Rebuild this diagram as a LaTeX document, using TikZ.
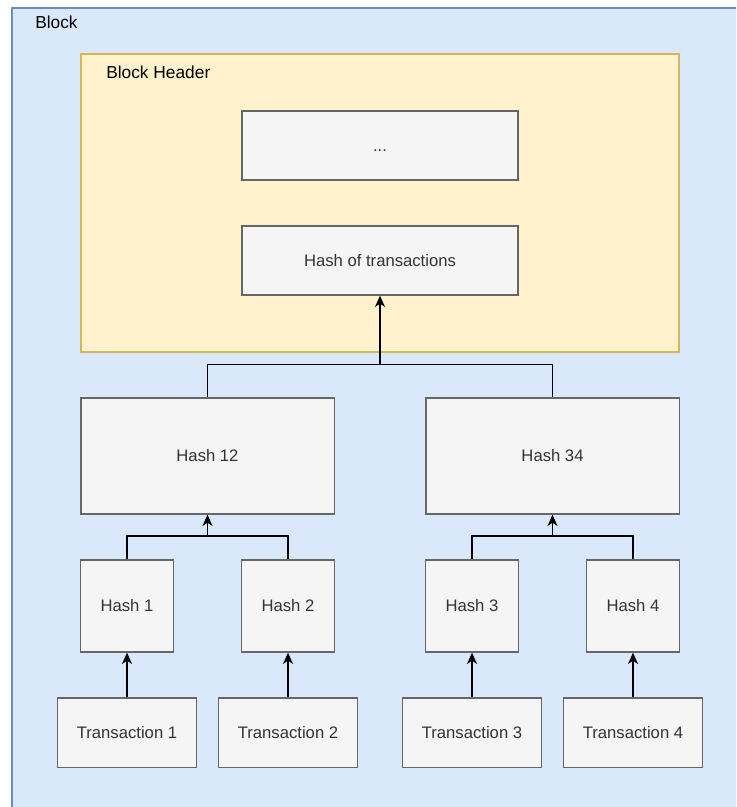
\documentclass[tikz,border=0pt]{standalone}
\usepackage{fontspec}
\setmainfont{Liberation Sans}
\usetikzlibrary{arrows.meta}
\definecolor{blockfill}{HTML}{DAE8FC}
\definecolor{blockline}{HTML}{6C8EBF}
\definecolor{headfill}{HTML}{FFF2CC}
\definecolor{headline}{HTML}{D6B656}
\definecolor{boxfill}{HTML}{F5F5F5}
\definecolor{boxline}{HTML}{666666}
\definecolor{boxtext}{HTML}{333333}
\tikzset{
  box/.style={draw=boxline, fill=boxfill, text=boxtext, line width=1pt,
    inner sep=0pt, text height=8.95pt, text depth=0pt,
    font=\fontsize{12.5pt}{15pt}\selectfont},
  widebox/.style={box, minimum width=207pt, minimum height=51.75pt},
  midbox/.style={box, minimum width=190pt, minimum height=87pt},
  hashbox/.style={box, minimum width=69.5pt, minimum height=69pt},
  txbox/.style={box, minimum width=104pt, minimum height=52pt},
  link/.style={draw=black, line width=1pt},
  uparrow/.style={link, -{Stealth[length=8.5pt, width=7.5pt, inset=2.5pt]}},
  caption/.style={anchor=west, inner sep=0pt, font=\fontsize{13pt}{15pt}\selectfont}
}
\begin{document}
\begin{tikzpicture}[x=0.75pt, y=-0.75pt]
  \useasboundingbox (0,0) rectangle (736,807);
  \begin{scope}
    \clip (0,0) rectangle (736,807);
    % outer block container
    \draw[fill=blockfill, draw=blockline, line width=1pt] (12,8) rectangle (760,830);
  \end{scope}
  \node[caption] (blocklbl) at (35,22) {Block};
  % block header
  \draw[fill=headfill, draw=headline, line width=1pt] (81,54) rectangle (679,352);
  \node[caption] (headlbl) at (106,72) {Block Header};

  \node[widebox] (dots) at (380,145.5) {...};
  \node[widebox] (root) at (380,260.5) {Hash of transactions};

  \node[midbox] (h12) at (207.5,456) {Hash 12};
  \node[midbox] (h34) at (552.5,456) {Hash 34};

  \node[hashbox] (h1) at (127,606) {Hash 1};
  \node[hashbox] (h2) at (288,606) {Hash 2};
  \node[hashbox] (h3) at (472,606) {Hash 3};
  \node[hashbox] (h4) at (633,606) {Hash 4};

  \node[txbox] (t1) at (127,732.5) {Transaction 1};
  \node[txbox] (t2) at (288,732.5) {Transaction 2};
  \node[txbox] (t3) at (472,732.5) {Transaction 3};
  \node[txbox] (t4) at (633,732.5) {Transaction 4};

  % junction points of the merge connectors
  \coordinate (jtop) at (380,364.3);
  \coordinate (jl) at (207.5,536);
  \coordinate (jr) at (552.5,536);

  % transactions to leaf hashes
  \foreach \i in {1,2,3,4} \draw[uparrow] (t\i.north) -- (h\i.south);

  % leaf hashes merged into the middle level
  \draw[link] (h1.north) |- (jl) -| (h2.north);
  \draw[uparrow] (jl) -- (h12.south);
  \draw[link] (h3.north) |- (jr) -| (h4.north);
  \draw[uparrow] (jr) -- (h34.south);

  % middle level merged into the header hash
  \draw[link] (h12.north) |- (jtop) -| (h34.north);
  \draw[uparrow] (jtop) -- (root.south);
\end{tikzpicture}
\end{document}
